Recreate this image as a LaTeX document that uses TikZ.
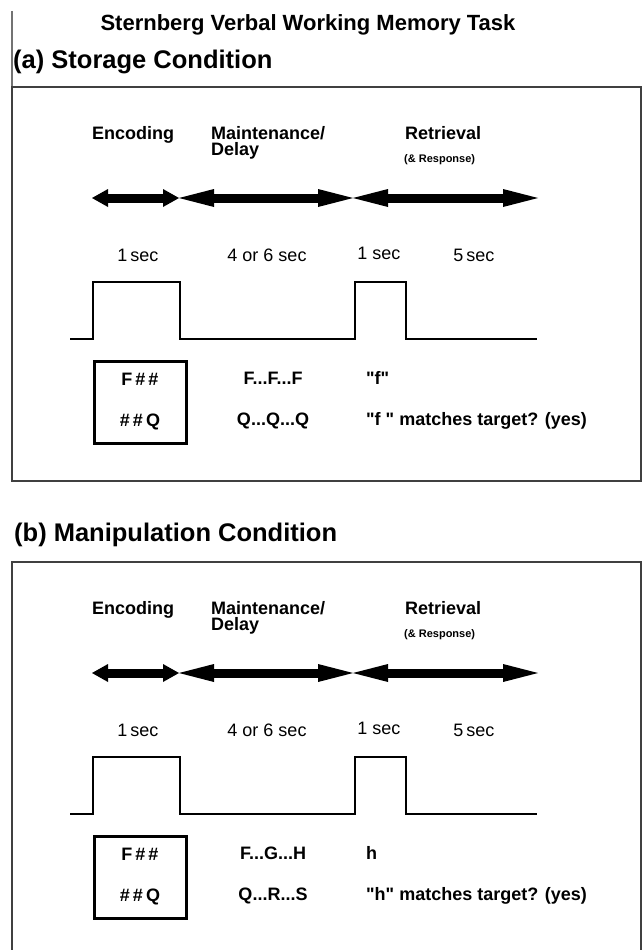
\documentclass[tikz,border=0pt]{standalone}
\usepackage{fontspec}
\setmainfont{Liberation Sans}[Ligatures=TeXOff]
\usepackage{tikz}
\usetikzlibrary{arrows.meta, positioning}

\begin{document}
\begin{tikzpicture}[x=1pt, y=-1pt,
    head/.style={font=\fontsize{25.5}{28}\selectfont\bfseries, inner sep=0pt, anchor=base west},
    phase/.style={font=\fontsize{18}{16}\selectfont\bfseries, inner sep=0pt, align=left, anchor=base west},
    note/.style={font=\fontsize{11}{12}\selectfont\bfseries, inner sep=0pt, anchor=base west},
    secs/.style={font=\fontsize{18}{20}\selectfont, inner sep=0pt, anchor=base},
    stim/.style={font=\fontsize{18}{20}\selectfont\bfseries, inner sep=0pt, anchor=base},
    frame/.style={draw=black!75, line width=1.3pt},
    epoch/.style={line width=9pt, {Triangle[length=16pt,width=18pt,line width=0pt]}-{Triangle[length=16pt,width=18pt,line width=0pt]}},
    long epoch/.style={line width=9pt, {Triangle[length=35pt,width=18pt,line width=0pt]}-{Triangle[length=35pt,width=18pt,line width=0pt]}},
    signal/.style={line width=2pt},
    cue/.style={draw, line width=3pt, minimum width=92pt, minimum height=82pt, inner sep=0pt,
                align=center, font=\fontsize{18}{41}\selectfont\bfseries}]
  \useasboundingbox (0,0) rectangle (643,950);

  % titles and frames
  \node[font=\fontsize{22}{24}\selectfont\bfseries, inner sep=0pt, anchor=base] (title) at (308,31)
    {Sternberg Verbal Working Memory Task};
  \node[head] (head-a) at (13,69) {(a) Storage Condition};
  \node[head] (head-b) at (14,541) {(b) Manipulation Condition};
  \draw[frame, draw=black!55] (12,11) -- (12,87);
  \draw[frame] (12,87) rectangle (641,481);
  \draw[frame] (12,950) -- (12,562) -- (641,562) -- (641,950);

  % one timeline per condition
  \foreach \p/\dy/\mA/\mB/\rA/\rB in {a/0/{F...F...F}/{Q...Q...Q}/{"f"}/{"f " matches target? (yes)},
                                   b/475/{F...G...H}/{Q...R...S}/{h}/{"h" matches target? (yes)}}{
    \begin{scope}[shift={(0,\dy)}]
      \node[phase] (enc-\p) at (92,139.5) {Encoding};
      \node[phase] (maint-\p) at (211,155.5) {Maintenance/\\Delay};
      \node[phase] (ret-\p) at (405,139.5) {Retrieval};
      \node[note] (resp-\p) at (404,162) {(\& Response)};

      \coordinate (t0-\p) at (92,198);
      \coordinate (t1-\p) at (179,198);
      \coordinate (t2-\p) at (353,198);
      \coordinate (t3-\p) at (538,198);
      \draw[epoch] (t0-\p) -- (t1-\p);
      \draw[long epoch] (t1-\p) -- (t2-\p);
      \draw[long epoch] (t2-\p) -- (t3-\p);

      \node[secs] (s1-\p) at (138,261.5) {1\,sec};
      \node[secs] (s2-\p) at (267,261.5) {4 or 6 sec};
      \node[secs] (s3-\p) at (379,259.5) {1 sec};
      \node[secs] (s4-\p) at (474,261.5) {5\,sec};

      \draw[signal] (70,339) -| (93,282) -| (180,339) -| (355,282) -| (406,339) -- (537,339);

      \node[cue] (cue-\p) at (140,402) {F\,\#\,\#\\\#\,\#\,Q};
      \node[stim] (mA-\p) at (273,384.5) {\mA};
      \node[stim] (mB-\p) at (273,425.5) {\mB};
      \node[stim, anchor=base west] (rA-\p) at (366,384.5) {\rA};
      \node[stim, anchor=base west] (rB-\p) at (366,425.5) {\rB};
    \end{scope}
  }
\end{tikzpicture}
\end{document}
